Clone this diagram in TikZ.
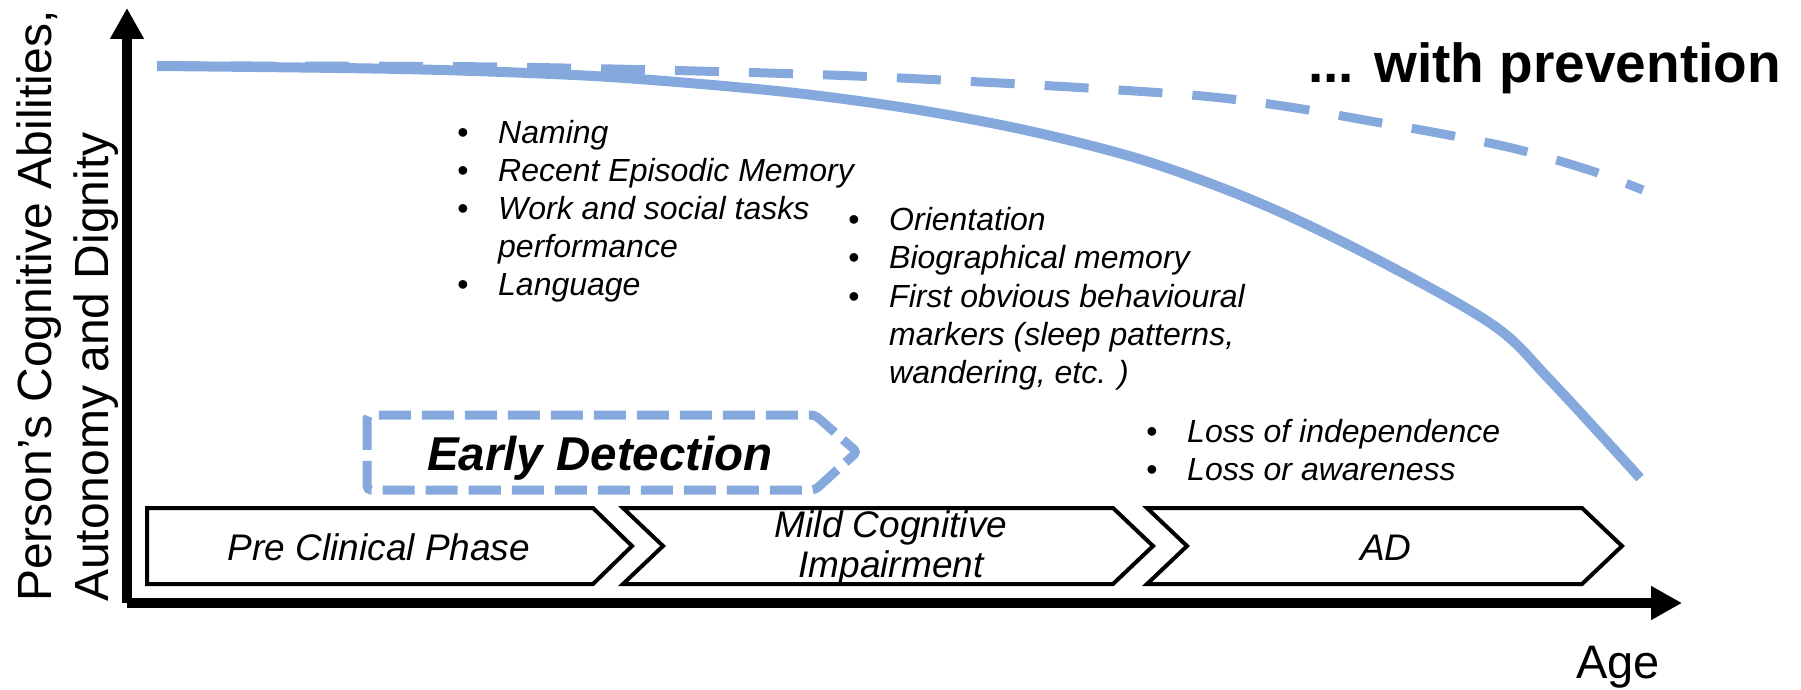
\documentclass[tikz,border=0pt]{standalone}
\usepackage{fontspec}
\setmainfont{Liberation Sans}
\usetikzlibrary{arrows.meta}
\definecolor{cblue}{RGB}{134,169,221}
\newcommand{\bl}{\makebox[41pt][l]{\textbullet}}
\begin{document}
\begin{tikzpicture}[x=1pt,y=-1pt,
  axisline/.style={line width=10pt,-{Triangle[length=31pt,width=32pt]}},
  phasebox/.style={draw=black,line width=4pt,line join=miter,fill=white},
  phasetext/.style={font=\fontsize{37}{40}\selectfont\itshape,inner sep=0pt,anchor=base},
  itemtext/.style={font=\fontsize{32}{38}\selectfont\itshape,inner sep=0pt,anchor=base west},
  curve/.style={cblue,line width=10pt},
  dashcurve/.style={cblue,line width=9pt,dash pattern=on 44pt off 30pt},
  detectbox/.style={cblue,line width=9pt,dash pattern=on 32pt off 11pt,rounded corners=4pt},
  ylab/.style={rotate=90,anchor=base west,inner sep=0pt,font=\fontsize{48}{56}\selectfont},
]
\useasboundingbox (0,0) rectangle (1801,690);

% axes
\coordinate (O) at (127,603);
\coordinate (ytop) at (127,8);
\coordinate (xend) at (1682,603);
\draw[axisline] (O) -- (ytop);
\draw[axisline] (O) -- (xend);

% axis labels
\node[ylab] (ylab1) at (51,602) {Person’s Cognitive Abilities,};
\node[ylab] (ylab2) at (108,602) {Autonomy and Dignity};
\node[inner sep=0pt,anchor=base,font=\fontsize{47}{50}\selectfont] (age) at (1618,678) {Age};

% curves
\draw[dashcurve] plot[smooth,tension=0.55] coordinates {(157,66) (500,67) (800,74) (1000,83) (1149,92) (1222,98) (1296,108) (1370,121) (1443,134) (1516,149) (1589,170) (1643,190)};
\draw[curve] plot[smooth,tension=0.55] coordinates {(157,66) (400,69) (574,75) (689,83) (804,94) (919,110) (1034,132) (1149,162) (1264,205) (1378,260) (1493,325) (1550,380) (1640,478)};

\node[inner sep=0pt,anchor=base east,font=\fontsize{55}{60}\selectfont\bfseries] (prev) at (1781,83) {... with prevention};

% bullet lists
\node[itemtext] (a1) at (457,143) {\bl Naming};
\node[itemtext] (a2) at (457,181) {\bl Recent Episodic Memory};
\node[itemtext] (a3) at (457,219) {\bl Work and social tasks};
\node[itemtext] (a3b) at (498,257) {performance};
\node[itemtext] (a4) at (457,295) {\bl Language};

\node[itemtext] (b1) at (848,230) {\bl Orientation};
\node[itemtext] (b2) at (848,268) {\bl Biographical memory};
\node[itemtext] (b3) at (848,307) {\bl First obvious behavioural};
\node[itemtext] (b3b) at (889,345) {markers (sleep patterns,};
\node[itemtext] (b3c) at (889,383) {wandering, etc. )};

\node[itemtext] (c1) at (1146,442) {\bl Loss of independence};
\node[itemtext] (c2) at (1146,480) {\bl Loss or awareness};

% early detection
\draw[detectbox] (367,452) -- (367,415) -- (815,415) -- (857,452) -- (815,490) -- (367,490) -- cycle;
\node[inner sep=0pt,anchor=base,font=\fontsize{47.5}{50}\selectfont\bfseries\itshape] (ed) at (600,470) {Early Detection};

% phases
\draw[phasebox] (147,508) -- (593,508) -- (632,546) -- (593,584) -- (147,584) -- cycle;
\draw[phasebox] (623,508) -- (1113,508) -- (1153,546) -- (1113,584) -- (623,584) -- (663,546) -- cycle;
\draw[phasebox] (1147,508) -- (1582,508) -- (1622,546) -- (1582,584) -- (1147,584) -- (1187,546) -- cycle;
\node[phasetext] (p1) at (379,560) {Pre Clinical Phase};
\node[phasetext] (p2a) at (891,537) {Mild Cognitive};
\node[phasetext] (p2b) at (891,577) {Impairment};
\node[phasetext] (p3) at (1386,560) {AD};
\end{tikzpicture}
\end{document}
